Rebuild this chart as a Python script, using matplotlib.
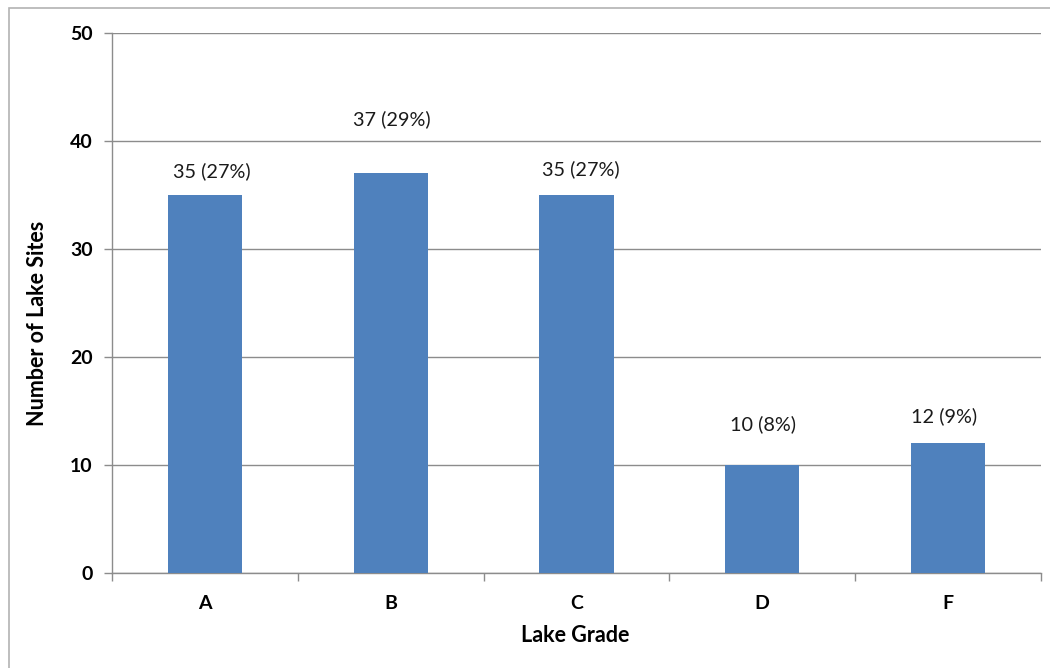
import matplotlib.pyplot as plt
from matplotlib.patches import Rectangle

grades = ['A', 'B', 'C', 'D', 'F']
counts = [35, 37, 35, 10, 12]
labels = ['35 (27%)', '37 (29%)', '35 (27%)', '10 (8%)', '12 (9%)']

# label nudges (pixels) - the labels were placed by hand in the original
label_dx = [7, 1, 4, 1, -4]
label_dy = [24, 54, 26, 41, 27]

plt.rcParams['font.family'] = ['Lato', 'DejaVu Sans']

fig = plt.figure(figsize=(10.5, 6.68), dpi=100)
fig.set_facecolor('w')

# outer chart frame (cut by the image edges on right/bottom)
fig.patches.append(Rectangle((9 / 1050, -0.05), 1.2, 1 - 8 / 668 + 0.05,
                             transform=fig.transFigure, fill=False,
                             ec='#b3b3b3', lw=1.2))

ax = fig.add_axes([112 / 1050, 1 - 573 / 668, (1041 - 112) / 1050, (573 - 33) / 668])

x = range(len(grades))
bars = ax.bar(x, counts, width=0.4, color='#4F81BD', zorder=3)

for b, lab, dx, dy in zip(bars, labels, label_dx, label_dy):
    ax.annotate(lab, (b.get_x() + b.get_width() / 2, b.get_height()),
                xytext=(dx * 0.72, dy * 0.72), textcoords='offset points',
                ha='center', va='center', fontsize=14.3, color='#1a1a1a')

ax.set_xlim(-0.5, len(grades) - 0.5)
ax.set_ylim(0, 50)
ax.set_yticks(range(0, 51, 10))
ax.yaxis.grid(True, color='#8c8c8c', lw=1.0, zorder=0)
ax.set_axisbelow(True)

ax.set_xticks(list(x))
ax.set_xticklabels(grades, fontsize=14, fontweight='bold')
ax.tick_params(axis='x', length=0, pad=16)
# category boundary ticks
ax.set_xticks([i - 0.5 for i in range(len(grades) + 1)], minor=True)
ax.tick_params(axis='x', which='minor', length=6, color='#8c8c8c', width=1)
ax.tick_params(axis='y', length=6, color='#8c8c8c', width=1, labelsize=14, pad=8)
for t in ax.get_yticklabels():
    t.set_fontweight('bold')

for s in ['top', 'right']:
    ax.spines[s].set_visible(False)
for s in ['left', 'bottom']:
    ax.spines[s].set_color('#8c8c8c')
    ax.spines[s].set_linewidth(1.0)

fig.text(38 / 1050, 1 - 323 / 668, 'Number of Lake Sites', rotation=90,
         ha='center', va='center', fontsize=15.5, fontweight='bold')
fig.text(575 / 1050, 1 - 635 / 668, 'Lake Grade',
         ha='center', va='center', fontsize=15.5, fontweight='bold')

fig.savefig('out.png', dpi=100)
